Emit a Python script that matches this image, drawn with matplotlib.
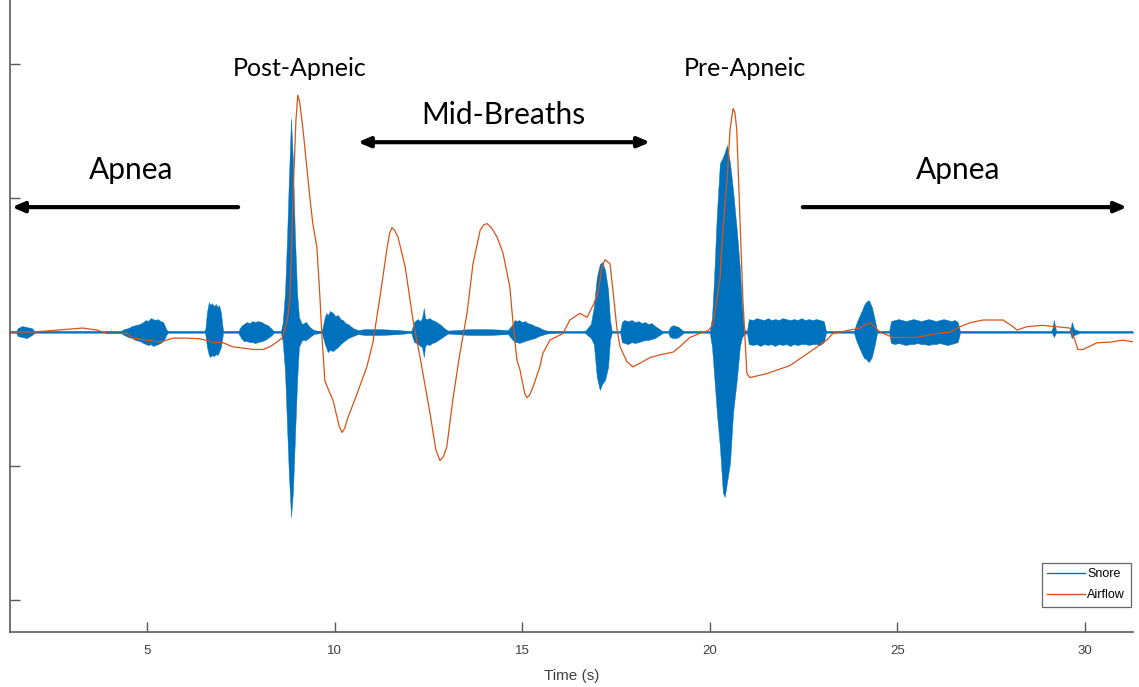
import numpy as np
import matplotlib
matplotlib.use("Agg")
import matplotlib.pyplot as plt
from matplotlib.lines import Line2D

# ---- Airflow trace (time in s, normalised amplitude) ----
airflow_t = [1.35, 1.96, 2.41, 2.87, 3.29, 3.67, 3.93, 4.20, 4.47, 4.63, 5.00, 5.35, 5.53,
             5.69, 6.07, 6.41, 6.76, 7.03, 7.29, 7.56, 7.83, 8.09, 8.28, 8.46, 8.60, 8.73,
             8.81, 8.89, 8.97, 9.02, 9.07, 9.16, 9.34, 9.42, 9.53, 9.61, 9.66, 9.74, 9.82,
             9.96, 10.12, 10.20, 10.27, 10.33, 10.60, 10.86, 11.02, 11.21, 11.40, 11.47,
             11.53, 11.60, 11.69, 11.88, 11.96, 12.09, 12.28, 12.54, 12.70, 12.81, 12.90,
             12.99, 13.16, 13.34, 13.53, 13.69, 13.88, 13.97, 14.06, 14.18, 14.33, 14.49,
             14.67, 14.75, 14.86, 14.94, 15.07, 15.13, 15.20, 15.29, 15.47, 15.55, 15.74,
             16.09, 16.27, 16.54, 16.73, 16.89, 17.02, 17.13, 17.21, 17.34, 17.42, 17.53,
             17.61, 17.79, 17.95, 18.22, 18.41, 18.67, 19.02, 19.20, 19.47, 19.74, 19.95,
             20.08, 20.27, 20.35, 20.46, 20.54, 20.62, 20.67, 20.72, 20.80, 20.88, 20.99,
             21.07, 21.52, 22.14, 22.86, 23.12, 23.28, 23.74, 24.00, 24.27, 24.54, 24.88,
             25.52, 26.06, 26.40, 26.67, 26.94, 27.28, 27.82, 28.08, 28.19, 28.45, 28.88,
             29.25, 29.60, 29.73, 29.81, 29.95, 30.32, 30.67, 31.01, 31.33]
airflow_v = [0.0, 0.0, 0.01, 0.02, 0.03, 0.015, -0.01, -0.01, -0.01, -0.045, -0.06, -0.075,
             -0.06, -0.045, -0.045, -0.05, -0.075, -0.08, -0.11, -0.12, -0.13, -0.13, -0.11,
             -0.075, -0.045, 0.07, 0.24, 0.99, 1.58, 1.77, 1.72, 1.51, 1.01, 0.81, 0.63,
             0.26, -0.01, -0.36, -0.42, -0.51, -0.70, -0.75, -0.72, -0.66, -0.46, -0.26,
             -0.08, 0.26, 0.63, 0.74, 0.78, 0.76, 0.71, 0.49, 0.34, 0.09, -0.19, -0.60,
             -0.88, -0.96, -0.93, -0.86, -0.49, -0.16, 0.14, 0.51, 0.76, 0.80, 0.81, 0.78,
             0.71, 0.59, 0.34, 0.09, -0.21, -0.28, -0.46, -0.49, -0.47, -0.41, -0.26,
             -0.16, -0.06, -0.01, 0.09, 0.14, 0.11, 0.20, 0.29, 0.49, 0.54, 0.51, 0.31,
             0.015, -0.11, -0.22, -0.26, -0.22, -0.19, -0.17, -0.15, -0.11, -0.04, -0.01,
             0.01, 0.05, 0.39, 0.76, 1.13, 1.51, 1.67, 1.64, 1.51, 0.89, 0.26, -0.31,
             -0.34, -0.31, -0.25, -0.11, -0.06, -0.01, 0.015, 0.03, 0.07, 0.0, -0.04,
             -0.04, -0.01, 0.0, 0.04, 0.07, 0.09, 0.09, 0.04, 0.015, 0.04, 0.05, 0.04,
             0.03, -0.06, -0.13, -0.13, -0.08, -0.075, -0.06, -0.075]

# ---- Snore envelope (time in s, upper / lower amplitude) ----
snore_t = [1.35, 1.51, 1.56, 1.67, 1.80, 1.93, 2.01,
           4.28, 4.39, 4.50, 4.60, 4.70, 4.81, 4.90, 4.97, 5.03, 5.10, 5.16, 5.23, 5.29,
           5.36, 5.43, 5.48, 5.51, 5.56,
           6.55, 6.60, 6.65, 6.69, 6.73, 6.78, 6.84, 6.88, 6.92, 6.97, 7.00, 7.03,
           7.43, 7.51, 7.58, 7.66, 7.74, 7.81, 7.88, 7.96, 8.06, 8.14, 8.22, 8.33, 8.38,
           8.57, 8.62, 8.68, 8.73, 8.78, 8.84, 8.89, 8.94, 9.00, 9.05, 9.13, 9.24, 9.34,
           9.45,
           9.66, 9.74, 9.78, 9.82, 9.88, 9.96, 10.02, 10.09, 10.16, 10.22, 10.29, 10.36,
           10.49, 10.62, 10.81, 11.21, 11.74,
           12.04, 12.12, 12.18, 12.22, 12.28, 12.33, 12.38, 12.41, 12.46, 12.53, 12.60,
           12.68, 12.76, 12.84, 12.92, 13.02, 13.61, 14.14, 14.62,
           14.75, 14.80, 14.86, 14.92, 14.99, 15.07, 15.15, 15.24, 15.34, 15.44, 15.53,
           15.66, 16.01,
           16.67, 16.83, 16.91, 16.99, 17.07, 17.13, 17.21, 17.29, 17.34, 17.39,
           17.61, 17.66, 17.72, 17.82, 17.92, 18.01, 18.10, 18.19, 18.27, 18.36, 18.45,
           18.54, 18.62, 18.70, 18.75,
           18.89, 18.94, 19.02, 19.10, 19.17, 19.23, 19.31,
           20.00, 20.06, 20.11, 20.19, 20.27, 20.35, 20.40, 20.46, 20.54, 20.62, 20.72,
           20.80, 20.86, 20.91, 20.99,
           21.04, 21.15, 21.25, 21.34, 21.45, 21.55, 21.64, 21.74, 21.84, 21.94, 22.04,
           22.14, 22.24, 22.34, 22.44, 22.54, 22.64, 22.74, 22.84, 22.94, 23.04, 23.10,
           23.84, 23.92, 24.00, 24.06, 24.11, 24.16, 24.24, 24.32, 24.40, 24.46,
           24.78, 24.83, 24.93, 25.03, 25.13, 25.23, 25.33, 25.43, 25.53, 25.63, 25.73,
           25.83, 25.93, 26.03, 26.13, 26.23, 26.33, 26.43, 26.53, 26.61, 26.67,
           29.12, 29.17, 29.23, 29.60, 29.65, 29.71, 29.87, 31.28]
snore_hi = [0.005, 0.005, 0.03, 0.045, 0.037, 0.03, 0.005,
            0.005, 0.022, 0.03, 0.045, 0.052, 0.06, 0.075, 0.09, 0.082, 0.104, 0.097,
            0.09, 0.097, 0.082, 0.075, 0.045, 0.022, 0.005,
            0.005, 0.149, 0.224, 0.201, 0.216, 0.194, 0.209, 0.187, 0.201, 0.149, 0.075,
            0.005,
            0.005, 0.045, 0.06, 0.075, 0.067, 0.082, 0.075, 0.082, 0.075, 0.06, 0.052,
            0.022, 0.005,
            0.005, 0.075, 0.299, 0.672, 1.119, 1.597, 1.269, 0.746, 0.299, 0.112, 0.06,
            0.075, 0.037, 0.015,
            0.005, 0.112, 0.142, 0.127, 0.157, 0.142, 0.119, 0.127, 0.097, 0.09, 0.067,
            0.06, 0.03, 0.015, 0.022, 0.022, 0.015,
            0.005, 0.075, 0.09, 0.097, 0.082, 0.104, 0.179, 0.104, 0.097, 0.104, 0.09,
            0.082, 0.067, 0.052, 0.03, 0.011, 0.022, 0.022, 0.015,
            0.06, 0.09, 0.082, 0.09, 0.075, 0.082, 0.067, 0.06, 0.045, 0.037, 0.022,
            0.011, 0.005,
            0.005, 0.06, 0.187, 0.41, 0.507, 0.522, 0.463, 0.313, 0.09, 0.005,
            0.005, 0.075, 0.09, 0.082, 0.09, 0.075, 0.082, 0.067, 0.075, 0.06, 0.067,
            0.045, 0.03, 0.015, 0.005,
            0.005, 0.037, 0.052, 0.045, 0.037, 0.022, 0.005,
            0.005, 0.112, 0.373, 0.888, 1.261, 1.306, 1.343, 1.396, 1.261, 1.06, 0.761,
            0.485, 0.187, 0.022, 0.005,
            0.097, 0.09, 0.104, 0.097, 0.09, 0.104, 0.09, 0.097, 0.09, 0.104, 0.097,
            0.09, 0.097, 0.09, 0.104, 0.09, 0.097, 0.09, 0.097, 0.09, 0.082, 0.005,
            0.005, 0.075, 0.127, 0.164, 0.201, 0.224, 0.239, 0.187, 0.09, 0.005,
            0.005, 0.082, 0.09, 0.097, 0.09, 0.082, 0.09, 0.097, 0.09, 0.082, 0.09,
            0.097, 0.09, 0.082, 0.09, 0.097, 0.09, 0.082, 0.09, 0.075, 0.005,
            0.005, 0.09, 0.005, 0.005, 0.075, 0.022, 0.005, 0.005]
snore_lo = [-0.005, -0.005, -0.03, -0.037, -0.045, -0.022, -0.005,
            -0.005, -0.022, -0.037, -0.045, -0.06, -0.067, -0.082, -0.09, -0.097, -0.09,
            -0.104, -0.097, -0.09, -0.082, -0.067, -0.045, -0.022, -0.005,
            -0.005, -0.112, -0.172, -0.187, -0.172, -0.179, -0.164, -0.172, -0.149,
            -0.112, -0.06, -0.005,
            -0.005, -0.045, -0.067, -0.067, -0.075, -0.075, -0.082, -0.075, -0.067,
            -0.06, -0.045, -0.022, -0.005,
            -0.005, -0.075, -0.299, -0.672, -1.045, -1.381, -1.194, -0.821, -0.373,
            -0.112, -0.06, -0.06, -0.037, -0.015,
            -0.005, -0.09, -0.12, -0.149, -0.134, -0.142, -0.127, -0.112, -0.09, -0.075,
            -0.06, -0.045, -0.03, -0.015, -0.022, -0.022, -0.015,
            -0.005, -0.075, -0.082, -0.09, -0.104, -0.112, -0.187, -0.104, -0.09, -0.097,
            -0.082, -0.075, -0.06, -0.045, -0.03, -0.011, -0.022, -0.022, -0.015,
            -0.06, -0.075, -0.075, -0.082, -0.075, -0.067, -0.06, -0.052, -0.045, -0.03,
            -0.022, -0.011, -0.005,
            -0.005, -0.045, -0.09, -0.336, -0.433, -0.388, -0.358, -0.261, -0.06, -0.005,
            -0.005, -0.075, -0.082, -0.09, -0.075, -0.082, -0.075, -0.067, -0.06, -0.06,
            -0.052, -0.045, -0.03, -0.015, -0.005,
            -0.005, -0.037, -0.045, -0.045, -0.037, -0.022, -0.005,
            -0.005, -0.112, -0.299, -0.604, -0.858, -1.201, -1.231, -1.119, -0.978,
            -0.604, -0.358, -0.112, -0.037, -0.022, -0.005,
            -0.09, -0.097, -0.09, -0.104, -0.09, -0.097, -0.09, -0.104, -0.09, -0.097,
            -0.09, -0.104, -0.09, -0.097, -0.09, -0.09, -0.097, -0.09, -0.09, -0.097,
            -0.075, -0.005,
            -0.005, -0.075, -0.127, -0.164, -0.194, -0.201, -0.224, -0.187, -0.09, -0.005,
            -0.005, -0.082, -0.09, -0.082, -0.09, -0.097, -0.09, -0.09, -0.082, -0.09,
            -0.09, -0.097, -0.09, -0.09, -0.082, -0.09, -0.097, -0.09, -0.082, -0.075,
            -0.005,
            -0.005, -0.037, -0.005, -0.005, -0.045, -0.022, -0.005, -0.005]

x_ticks = [5, 10, 15, 20, 25, 30]
y_ticks = [-2, -1, 0, 1, 2]

SNORE_C = "#0072BD"
AIR_C = "#D95319"
AXIS_C = "#5a5a5a"

fig = plt.figure(figsize=(11.39, 6.87), dpi=100)
ax = fig.add_axes([10 / 1139, 55 / 687, 1123 / 1139, 632 / 687])

st = np.array(snore_t)
hi = np.array(snore_hi)
lo = np.array(snore_lo)
ax.fill_between(st, lo, hi, color=SNORE_C, linewidth=0.3, edgecolor=SNORE_C, zorder=2)
ax.plot(st, (hi + lo) / 2, color=SNORE_C, lw=1.1, label="Snore", zorder=2)
ax.plot(airflow_t, airflow_v, color=AIR_C, lw=0.9, label="Airflow", zorder=3)

ax.set_xlim(1.35, 31.28)
ax.set_ylim(-2.24, 2.48)
ax.set_xticks(x_ticks)
ax.set_yticks(y_ticks)
ax.set_yticklabels([])
ax.tick_params(direction="in", length=7, width=1.0, color=AXIS_C,
               labelcolor="#404040", labelsize=9.5, pad=9)
for lab in ax.get_xticklabels():
    lab.set_family("Liberation Sans")
for s in ("top", "right"):
    ax.spines[s].set_visible(False)
for s in ("left", "bottom"):
    ax.spines[s].set_color(AXIS_C)
    ax.spines[s].set_linewidth(1.2)

ax.set_xlabel("Time (s)", family="Liberation Sans", fontsize=11, color="#404040", labelpad=9)

# Phase labels
font = "Lato"
ax.text(9.08, 1.97, "Post-Apneic", ha="center", va="center", fontsize=18, family=font)
ax.text(20.94, 1.97, "Pre-Apneic", ha="center", va="center", fontsize=18, family=font)
ax.text(14.49, 1.62, "Mid-Breaths", ha="center", va="center", fontsize=21.5, family=font)
ax.text(4.57, 1.21, "Apnea", ha="center", va="center", fontsize=21.5, family=font)
ax.text(26.61, 1.21, "Apnea", ha="center", va="center", fontsize=21.5, family=font)

arrow_kw = dict(arrowstyle="-|>,head_length=0.7,head_width=0.3", color="black", lw=3,
                shrinkA=0, shrinkB=0)
ax.annotate("", xy=(1.40, 0.933), xytext=(7.43, 0.933), arrowprops=arrow_kw)
ax.annotate("", xy=(31.12, 0.933), xytext=(22.48, 0.933), arrowprops=arrow_kw)
ax.annotate("", xy=(10.62, 1.418), xytext=(18.41, 1.418),
            arrowprops=dict(arrowstyle="<|-|>,head_length=0.7,head_width=0.3",
                            color="black", lw=3, shrinkA=0, shrinkB=0))

handles = [Line2D([], [], color=SNORE_C, lw=1.0), Line2D([], [], color=AIR_C, lw=1.0)]
leg = ax.legend(handles, ["Snore", "Airflow"], loc="lower right",
                bbox_to_anchor=(0.998, 0.04), frameon=True, fancybox=False,
                handlelength=3.0, handletextpad=0.2, borderpad=0.45, labelspacing=0.7,
                borderaxespad=0, prop={"family": "Liberation Sans", "size": 9})
leg.get_frame().set_edgecolor("#404040")
leg.get_frame().set_linewidth(0.9)

fig.savefig("out.png", dpi=100)
